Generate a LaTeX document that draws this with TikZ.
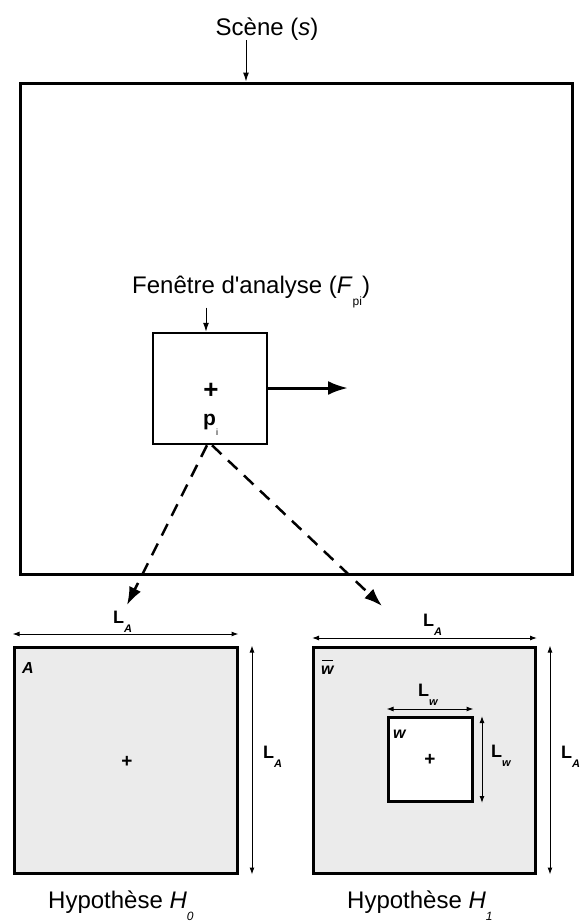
\documentclass[tikz,border=0pt]{standalone}
\usepackage{fontspec}
\setmainfont{Liberation Sans}
\usetikzlibrary{arrows.meta,positioning}
\tikzset{
    frame-box/.style = {draw, line width=3pt, rectangle, inner sep=0pt},
    hyp-box/.style = {frame-box, fill=black!8},
    big-label/.style = {font=\fontsize{24}{24}\selectfont, inner sep=0pt},
    dim-label/.style = {font=\fontsize{18}{18}\selectfont\bfseries, inner sep=0pt},
    box-letter/.style = {font=\fontsize{16}{16}\selectfont\bfseries\itshape, inner sep=0pt},
    cross/.style = {font=\fontsize{19}{19}\selectfont\bfseries, inner sep=0pt},
    thin-arrow/.style = {-{Latex[length=9pt,width=6pt]}, line width=1pt},
    dim-arrow/.style = {{Latex[length=7pt,width=5pt]}-{Latex[length=7pt,width=5pt]}, line width=1pt},
    dash-arrow/.style = {-{Latex[length=18pt,width=13pt]}, line width=2.5pt, dash pattern=on 13pt off 9pt},
}
\newcommand{\lowsub}[2][11]{\raisebox{-0.5em}{\fontsize{#1}{#1}\selectfont #2}}

\begin{document}
\begin{tikzpicture}[x=1pt,y=-1pt]
\useasboundingbox (0,0) rectangle (579,922);

% scene and analysis window
\node[frame-box, minimum width=552pt, minimum height=491pt] (scene) at (296,328.5) {};
\node[big-label, anchor=base] (scene-title) at (267,35) {Scène (\textit{s})};
\draw[thin-arrow] (scene-title.south -| 246,0) -- (scene.north -| 246,0);

\node[frame-box, line width=2.5pt, minimum width=114pt, minimum height=111pt] (window) at (210,388.5) {};
\node[big-label, anchor=base west] (window-title) at (132,293) {Fenêtre d\textquotesingle analyse (\textit{F}\lowsub[12]{pi})};
\draw[thin-arrow] (window-title.south -| 206,0) -- (window.north -| 206,0);
\node[cross, font=\fontsize{26}{26}\selectfont\bfseries] (center-cross) at (211,391) {+};
\node[font=\fontsize{21}{21}\selectfont\bfseries, inner sep=0pt, anchor=base west] (pixel) at (203,425) {p\lowsub[9]{\mdseries i}};
\coordinate (move) at (348,388);
\draw[-{Latex[length=20pt,width=14pt]}, line width=3pt] (window.east |- move) -- (move);

% hypothesis boxes
\node[hyp-box, minimum width=223pt, minimum height=226pt] (H0) at (125.5,760) {};
\node[hyp-box, minimum width=222pt, minimum height=226pt] (H1) at (424.5,760) {};
\node[frame-box, fill=white, minimum width=84pt, minimum height=84pt] (inner) at (430,759.5) {};

\coordinate (tip0) at (127,605);
\coordinate (tip1) at (382,606);
\draw[dash-arrow] ([xshift=-3pt]window.south) -- (tip0);
\draw[dash-arrow] ([xshift=2pt]window.south) -- (tip1);

\node[cross] (cross0) at (127,762) {+};
\node[cross] (cross1) at (430,760) {+};
\node[box-letter, anchor=base west] (label-A) at (22,673) {A};
\node[box-letter, anchor=base west] (label-wbar) at (321,674) {w};
\draw[line width=1pt] (label-wbar.north west) ++(1,-5) -- ++(11,0);
\node[box-letter, anchor=base west] (label-w) at (393,738) {w};

% dimensions
\draw[dim-arrow] (H0.north west |- 0,634) -- (H0.north east |- 0,634);
\node[dim-label, anchor=base west] (LA-top0) at (113,623) {L\lowsub{\itshape A}};
\draw[dim-arrow] (H0.north east -| 252,0) -- (H0.south east -| 252,0);
\node[dim-label, anchor=base west] (LA-side0) at (263,758) {L\lowsub{\itshape A}};

\draw[dim-arrow] (H1.north west |- 0,638) -- (H1.north east |- 0,638);
\node[dim-label, anchor=base west] (LA-top1) at (423,626) {L\lowsub{\itshape A}};
\draw[dim-arrow] (H1.north east -| 550,0) -- (H1.south east -| 550,0);
\node[dim-label, anchor=base west] (LA-side1) at (561,758) {L\lowsub{\itshape A}};

\draw[dim-arrow] (inner.north west |- 0,709) -- (inner.north east |- 0,709);
\node[dim-label, anchor=base west] (Lw-top) at (418,696) {L\lowsub{\itshape w}};
\draw[dim-arrow] (inner.north east -| 482,0) -- (inner.south east -| 482,0);
\node[dim-label, anchor=base west] (Lw-side) at (491,757) {L\lowsub{\itshape w}};

% captions
\node[big-label, anchor=base west] (caption0) at (48,908) {Hypothèse \textit{H}\lowsub[12]{\itshape 0}};
\node[big-label, anchor=base west] (caption1) at (347,908) {Hypothèse \textit{H}\lowsub[12]{\itshape 1}};
\end{tikzpicture}
\end{document}
